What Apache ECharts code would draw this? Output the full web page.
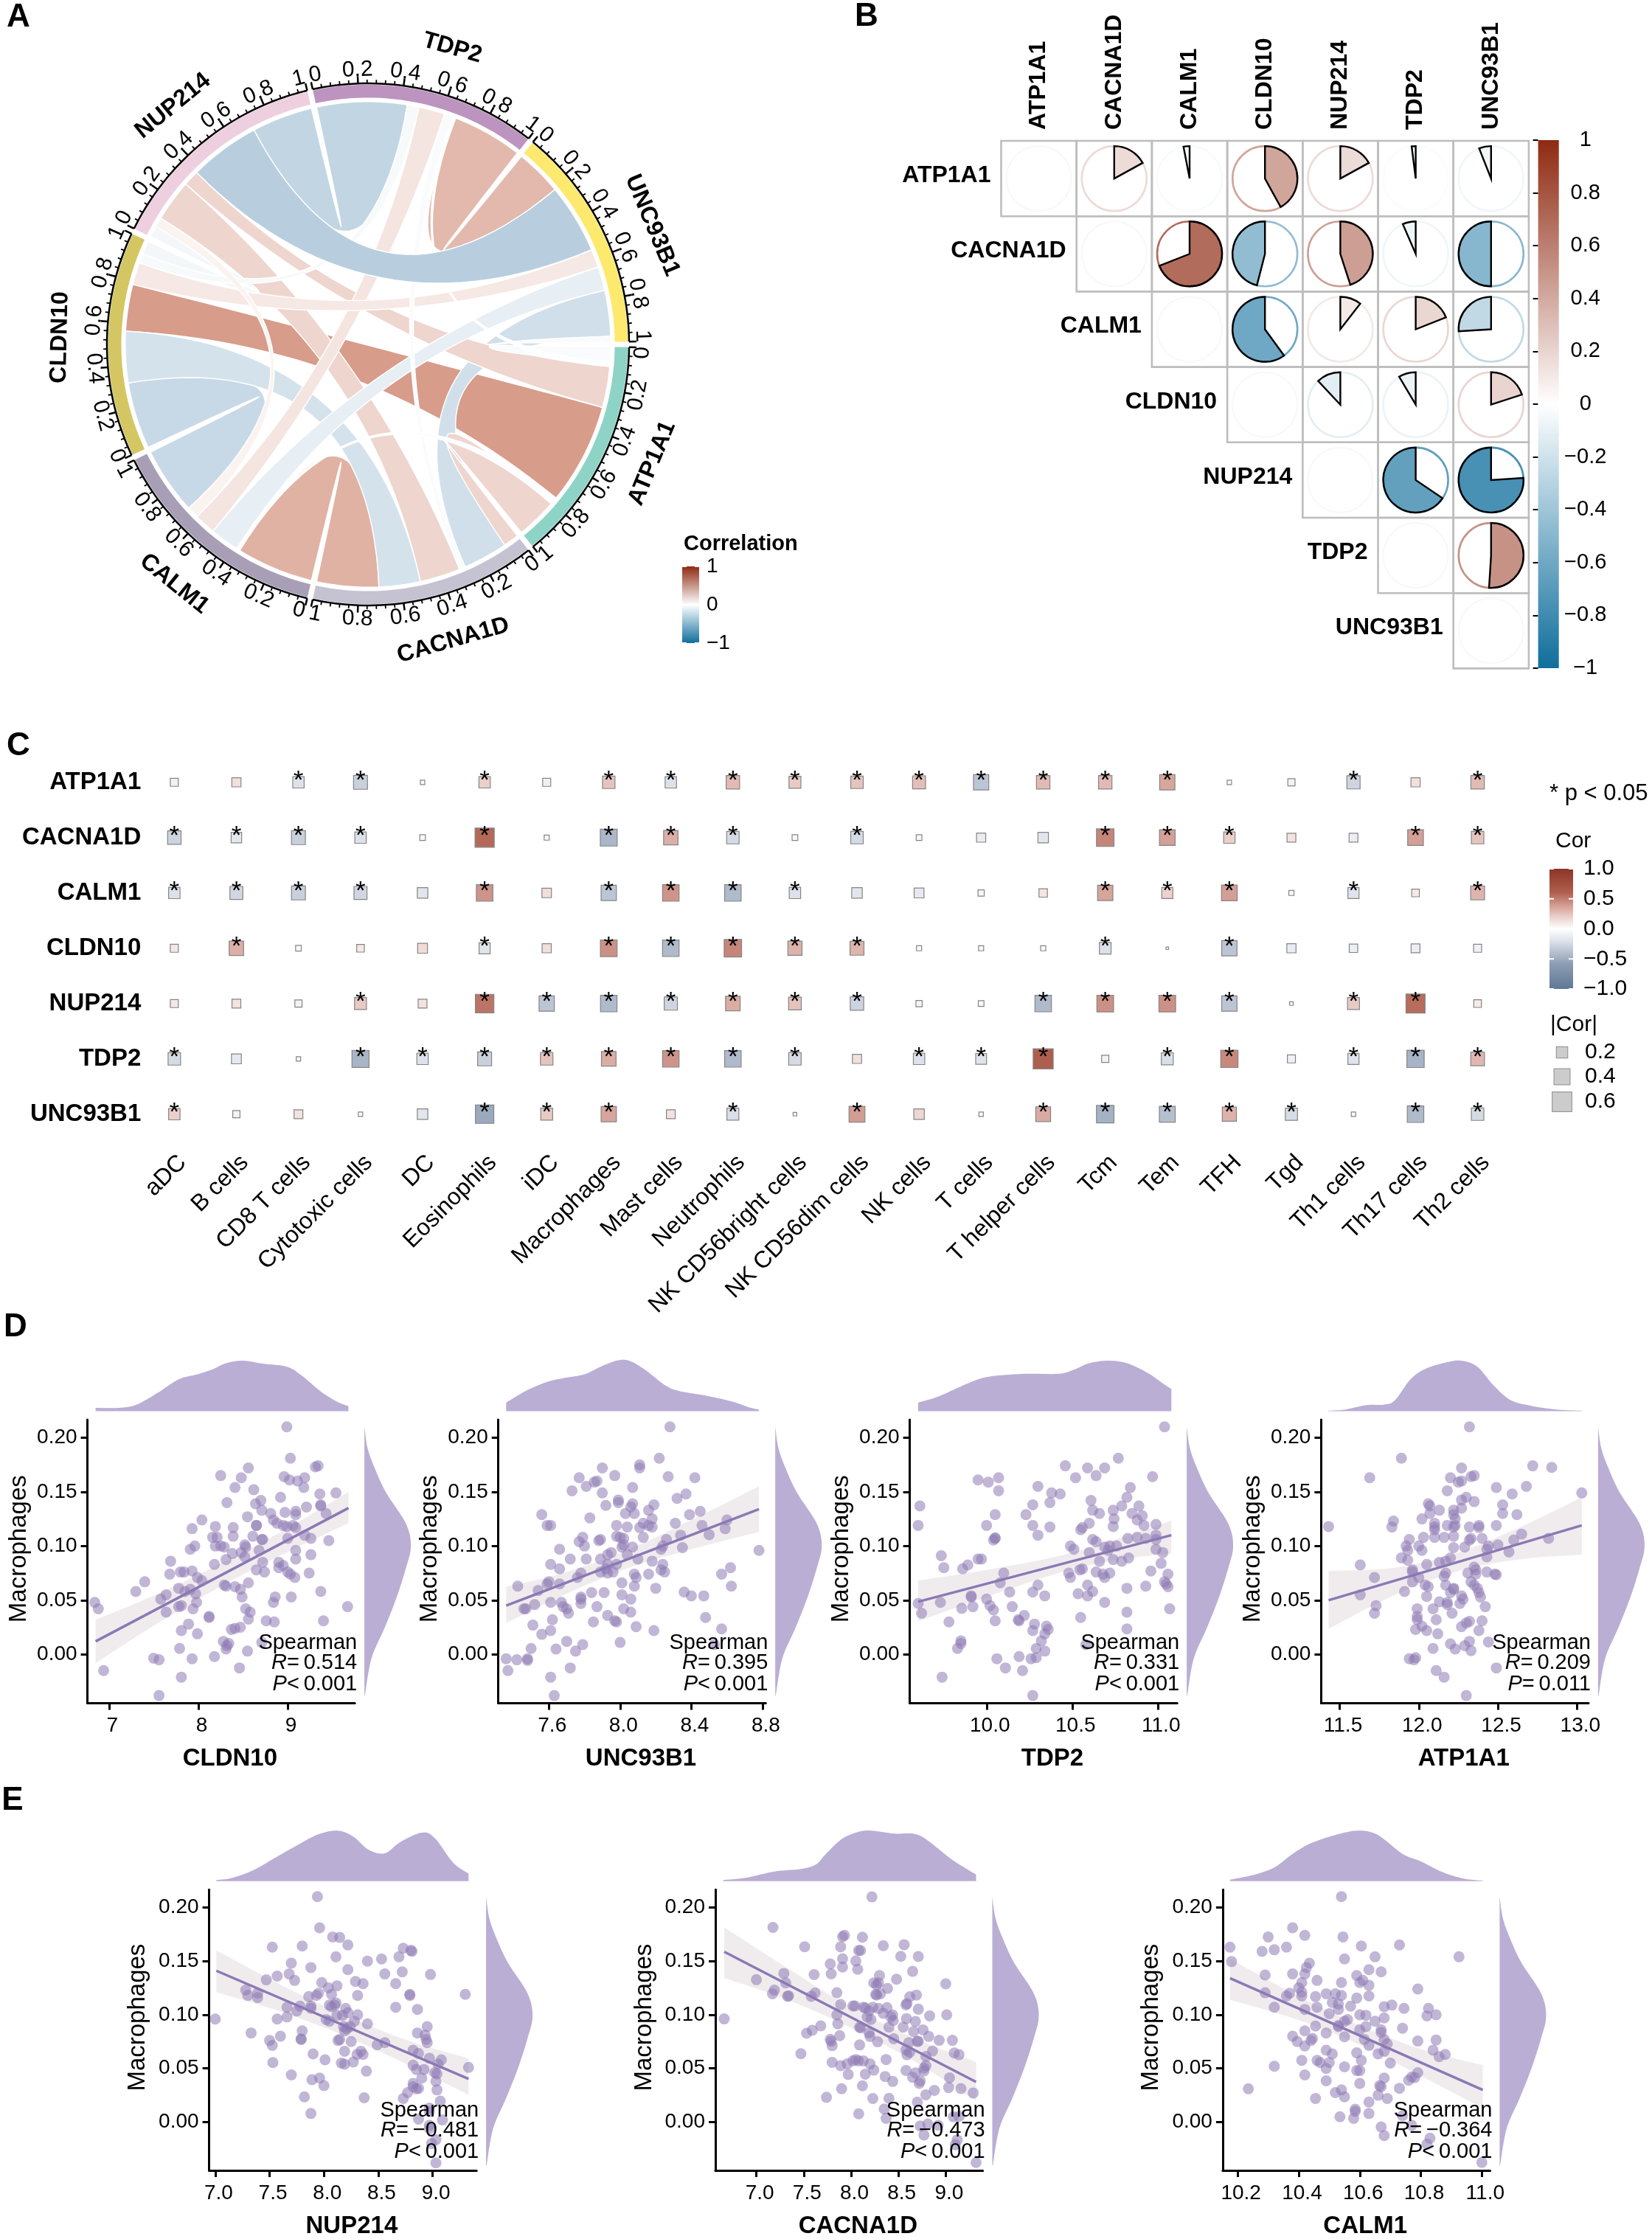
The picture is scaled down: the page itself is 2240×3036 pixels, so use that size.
<!DOCTYPE html>
<html><head><meta charset="utf-8"><style>html,body{margin:0;padding:0;background:#fff}#c{width:2240px;height:3036px}</style>
<script src="https://cdn.jsdelivr.net/npm/echarts@6/dist/echarts.min.js"></script></head>
<body><div id="c"></div><script>
const genes=['ATP1A1','CACNA1D','CALM1','CLDN10','NUP214','TDP2','UNC93B1'];
// upper triangle of the correlation matrix (panel B)
const corATP1A1=[0,.17,-.03,.42,.17,-.02,-.06];
const corCACNA1D=[0,0,.69,-.46,.45,-.065,-.5];
const corCALM1=[0,0,0,-.6,.105,.19,-.26];
const corCLDN10=[0,0,0,0,-.12,-.085,.2];
const corNUP214=[0,0,0,0,0,-.655,-.76];
const corTDP2=[0,0,0,0,0,0,.51];
const corUNC93B1=[0,0,0,0,0,0,0];
// ribbon tint (same pair order as the matrix)
const ribbonTone=[[0,.27,-.03,.64,.27,-.02,-.06],[0,0,.5,-.46,.27,-.065,-.5],[0,0,0,-.6,.08,.17,-.26],[0,0,0,0,-.12,-.085,.15],[0,0,0,0,0,-.655,-.76],[0,0,0,0,0,0,.45],[0,0,0,0,0,0,0]];
const sectorColors=['#8ED4C6','#C5C2D2','#A89FB6','#D4C662','#EDCFE0','#BC94BF','#FDE96E'];
const geneLabelNudgeDeg=[-3,-3.2,.4,1.3,-.7,3,3];
const chordTicks=[0,.2,.4,.6,.8,1];
// panel C
const cells=['aDC','B cells','CD8 T cells','Cytotoxic cells','DC','Eosinophils','iDC','Macrophages','Mast cells','Neutrophils','NK CD56bright cells','NK CD56dim cells','NK cells','T cells','T helper cells','Tcm','Tem','TFH','Tgd','Th1 cells','Th17 cells','Th2 cells'];
const heatATP1A1=[-.1,.13,-.2,-.3,-.03,.2,-.1,.24,-.2,.28,.22,.24,.26,-.36,.28,.28,.36,-.03,-.08,-.27,.13,.28];
const heatCACNA1D=[-.28,-.17,-.3,-.2,-.05,.57,-.04,-.44,.32,-.24,-.05,-.24,-.05,-.13,-.17,.47,.38,.2,.12,-.12,.38,.24];
const heatCALM1=[-.2,-.26,-.3,-.26,-.17,.42,.14,-.36,.42,-.42,-.2,-.17,-.15,-.06,.11,.36,.19,.38,-.04,-.19,.09,.3];
const heatCLDN10=[.1,.32,-.05,.09,.15,-.19,.13,.43,-.42,.47,.31,.3,-.04,-.04,-.04,-.21,-.01,-.36,-.13,-.11,-.12,-.1];
const heatNUP214=[.1,.12,-.08,.22,.12,.53,-.36,-.42,-.27,.33,.25,-.28,-.06,-.05,-.42,.43,.43,-.36,-.02,.22,.56,.09];
const heatTDP2=[-.24,-.15,-.03,-.45,-.2,-.3,.24,.33,.42,-.42,-.24,.13,-.2,-.18,.62,-.08,-.22,.46,-.1,-.19,-.46,.29];
const heatUNC93B1=[.2,-.08,.12,-.03,-.17,-.52,.22,.36,.12,-.22,-.02,.39,.17,-.03,.34,-.47,-.39,.31,-.23,-.03,-.42,-.24];
const starATP1A1='0011010111111111100101';
const starCACNA1D='1111010111010001110011';
const starCALM1='1111010111100001110101';
const starCLDN10='0100010111110001010000';
const starNUP214='0001011111110011110110';
const starTDP2='1001111111101110110111';
const starUNC93B1='1000011101010011111011';
const sizeLegend=[.2,.4,.6];
// panels D, E : macrophage score against gene expression
const cldn10Points=[[8.99,.21],[9.03,.181],[8.56,.172],[9.31,.173],[9.34,.174],[8.25,.165],[8.48,.163],[8.96,.164],[9.02,.161],[9.11,.16],[9.19,.163],[8.41,.154],[8.62,.152],[9.18,.154],[9.54,.149],[9.36,.148],[8.92,.145],[8.32,.14],[8.64,.139],[8.7,.142],[9.37,.138],[9.37,.137],[8.71,.133],[8.81,.13],[8.97,.131],[9.09,.132],[9.09,.129],[9.21,.136],[9.43,.13],[8.55,.127],[8.04,.124],[8.84,.124],[8.88,.121],[7.93,.116],[8.19,.118],[8.39,.117],[8.65,.119],[8.65,.119],[8.95,.119],[8.99,.118],[9.06,.119],[9.09,.117],[8.16,.108],[8.21,.108],[8.39,.109],[8.61,.109],[8.71,.106],[8.72,.106],[9,.107],[9.19,.11],[9.26,.107],[9.46,.105],[8.19,.1],[8.25,.1],[8.29,.099],[7.96,.1],[7.91,.097],[8.52,.101],[8.53,.099],[8.68,.096],[8.38,.093],[9.09,.096],[8.48,.094],[8.52,.09],[9.26,.092],[7.69,.086],[8.31,.0875],[8.18,.083],[8.72,.085],[9.09,.088],[8.9,.085],[8.95,.082],[8.9,.08],[7.84,.076],[7.8,.076],[7.68,.074],[7.93,.077],[8.65,.078],[8.74,.076],[9,.076],[9.03,.074],[9.08,.071],[9.24,.075],[7.99,.071],[8.04,.068],[7.4,.067],[8.56,.066],[7.3,.058],[7.78,.061],[7.91,.06],[8.29,.064],[8.31,.063],[8.41,.0625],[8.47,.06],[9.37,.058],[7.64,.055],[7.58,.051],[7.85,.058],[7.97,.056],[8.49,.053],[9.04,.053],[8.86,.053],[8.84,.048],[6.84,.048],[6.88,.042],[7.78,.044],[7.81,.045],[7.98,.048],[7.94,.042],[9.67,.044],[8.53,.042],[8.58,.039],[7.64,.039],[8.12,.035],[8.12,.034],[8.56,.0325],[8.76,.031],[8.85,.03],[9.4,.031],[7.89,.028],[7.81,.022],[7.99,.019],[8.37,.023],[8.41,.024],[8.47,.025],[8.28,.012],[8.34,.01],[8.32,.008],[8.31,.005],[8.71,.011],[7.79,.0055],[8.55,.003],[7.5,-.0036],[7.56,-.005],[7.93,-.004],[8.18,-.002],[8.46,-.0125],[6.94,-.015],[7.81,-.021],[7.56,-.038]];
const unc93b1Points=[[8.28,.21],[8.22,.181],[8.11,.175],[8.11,.172],[7.9,.172],[7.77,.163],[7.87,.16],[7.855,.159],[7.97,.165],[7.73,.151],[7.81,.155],[7.9,.149],[8.07,.154],[8.27,.164],[8.42,.163],[8.37,.148],[8.32,.144],[7.99,.1425],[7.99,.14],[7.92,.1375],[8.07,.139],[8.06,.136],[8.19,.138],[8.16,.133],[8.03,.13],[8.08,.13],[7.56,.129],[7.83,.126],[8.39,.129],[8.45,.132],[8.18,.125],[8.31,.121],[8.6,.124],[8.59,.116],[8.46,.119],[7.59,.119],[7.61,.119],[7.98,.119],[8.04,.1175],[8.11,.117],[8.13,.121],[8.16,.119],[8.18,.1175],[7.79,.108],[7.77,.104],[7.89,.106],[7.88,.105],[7.98,.109],[8,.108],[8.02,.107],[8.13,.108],[8.5,.1105],[8.26,.106],[8.34,.11],[7.8,.1],[8.02,.101],[8.01,.099],[8.07,.099],[8.24,.1],[8.23,.097],[8.35,.0985],[7.66,.097],[8.78,.096],[7.95,.094],[7.93,.092],[8.04,.092],[7.72,.088],[7.81,.088],[7.89,.088],[8.1,.088],[8.18,.086],[7.61,.083],[8.24,.083],[7.66,.079],[7.93,.083],[7.92,.079],[7.98,.083],[8.62,.08],[7.78,.075],[7.76,.071],[7.93,.075],[7.89,.076],[7.96,.076],[8.23,.078],[8.25,.076],[8.16,.074],[8.08,.074],[8.09,.071],[8.57,.074],[8.01,.066],[7.6,.067],[7.59,.065],[7.66,.065],[7.425,.063],[8.625,.063],[8.08,.063],[7.54,.059],[8.2,.061],[8.36,.0575],[8.4,.054],[8.47,.054],[7.84,.057],[7.91,.057],[8.01,.055],[7.78,.053],[7.78,.051],[7.78,.047],[8.06,.051],[7.61,.048],[7.67,.048],[7.52,.046],[7.46,.042],[7.47,.042],[7.68,.044],[7.7,.042],[7.71,.038],[7.87,.044],[8.02,.042],[8.06,.039],[7.93,.036],[7.97,.031],[7.98,.03],[7.62,.032],[7.85,.03],[8.48,.034],[7.51,.027],[8.09,.0255],[8.19,.022],[8.57,.0235],[7.61,.022],[7.56,.0185],[8,.011],[7.7,.012],[7.79,.009],[8.53,.009],[7.5,.0055],[7.64,.005],[7.75,.003],[7.36,-.004],[7.42,-.005],[7.48,-.004],[7.48,-.0055],[7.37,-.015],[7.72,-.0125],[7.61,-.021],[7.63,-.038]];
const tdp2Points=[[11.04,.21],[10.77,.181],[10.46,.174],[10.59,.172],[10.69,.172],[10.97,.164],[10.64,.165],[10.52,.163],[9.95,.161],[10.01,.159],[10.07,.163],[10.07,.151],[10.3,.155],[10.38,.149],[10.43,.148],[10.84,.154],[10.82,.145],[10.61,.142],[9.61,.137],[10.27,.138],[10.37,.14],[10.79,.137],[10.89,.137],[10.62,.133],[10.66,.13],[10.74,.133],[10.23,.129],[10.05,.129],[10.85,.13],[10.91,.128],[10.88,.124],[10.745,.125],[9.6,.119],[10,.119],[10.27,.119],[10.37,.1175],[10.56,.117],[10.6,.121],[10.55,.115],[10.74,.118],[10.92,.119],[10.99,.12],[10.3,.11],[10.05,.1075],[10.04,.1055],[10.05,.107],[10.88,.108],[10.99,.11],[10.62,.106],[10.64,.104],[10.49,.1],[10.51,.097],[10.825,.107],[10.93,.107],[10.72,.1],[10.76,.1],[10.6,.094],[10.69,.099],[10.71,.096],[9.735,.091],[10.99,.097],[11.03,.094],[10.99,.106],[9.95,.088],[9.97,.088],[9.89,.0825],[9.86,.079],[9.75,.08],[10.66,.086],[10.74,.0875],[10.79,.086],[10.83,.089],[11.02,.084],[10.545,.078],[10.56,.079],[10.48,.075],[10.1,.075],[10.64,.076],[10.72,.075],[10.96,.077],[11.06,.074],[10.49,.071],[10.68,.074],[10.69,.071],[10.08,.066],[11.04,.067],[11.05,.065],[10.93,.063],[11.06,.0625],[10.3,.064],[10.59,.064],[10.62,.058],[10.82,.061],[10.135,.0575],[10.27,.0575],[10.535,.056],[10.59,.054],[10.34,.054],[9.91,.054],[9.91,.053],[10,.051],[9.73,.048],[9.6,.047],[10.69,.048],[10.02,.045],[9.92,.044],[9.855,.0425],[10.15,.044],[10.04,.041],[11.07,.042],[9.62,.038],[10.82,.039],[10.22,.036],[10.185,.032],[10.19,.031],[10.55,.034],[10.05,.031],[9.78,.03],[10.28,.028],[10.35,.026],[10.27,.022],[10.36,.023],[10.34,.019],[10.82,.0235],[10.32,.0125],[9.85,.0125],[9.85,.01],[10.58,.009],[10.29,.0055],[9.83,.0055],[10.34,.003],[10.19,-.002],[10.29,-.003],[10.26,-.004],[10.06,-.004],[10.11,-.0125],[10.21,-.015],[9.74,-.021],[10.27,-.038]];
const atp1a1Points=[[12.32,.21],[11.89,.181],[12.27,.172],[12.72,.174],[12.84,.1725],[11.69,.163],[12.2,.163],[12.27,.16],[12.25,.159],[12.35,.165],[12.33,.164],[12.18,.151],[12.49,.154],[12.68,.155],[13.03,.149],[12.59,.148],[12.3,.145],[12.27,.1425],[12.35,.141],[12.06,.139],[12.07,.137],[12.27,.135],[12.53,.138],[12.53,.13],[12.13,.133],[12.07,.13],[12.22,.133],[12.02,.125],[11.84,.123],[11.83,.1175],[12.22,.129],[12.23,.125],[12.62,.129],[11.43,.118],[12.1,.121],[12.1,.1175],[12.1,.115],[12.18,.119],[12.23,.119],[12.22,.1175],[12.32,.1175],[12.38,.119],[12.38,.117],[12.49,.119],[12.65,.111],[12.03,.108],[12.1,.108],[12.16,.108],[12.22,.109],[12.33,.107],[12.32,.1055],[12.4,.107],[11.94,.106],[12.82,.107],[12.6,.1055],[11.92,.1],[12,.1],[12.22,.0985],[12.29,.099],[11.93,.096],[12.02,.096],[12.44,.1],[12.5,.101],[12.57,.0945],[12.43,.097],[12.43,.09],[11.89,.089],[11.93,.087],[11.63,.0825],[12.2,.089],[12.13,.085],[12.17,.086],[12.05,.083],[12.35,.0805],[12.36,.078],[12.36,.074],[11.96,.078],[11.96,.076],[12,.071],[12.31,.075],[12.43,.076],[12.48,.074],[12.49,.0735],[12.17,.075],[12.16,.072],[11.72,.071],[11.96,.067],[12.33,.067],[12.04,.064],[12.06,.0625],[12.17,.064],[12.22,.061],[12.35,.064],[12.37,.061],[11.91,.058],[12.22,.06],[12.2,.057],[12.38,.057],[11.63,.055],[12.05,.0535],[12.27,.054],[12.28,.051],[12.39,.053],[12.13,.0485],[12.18,.048],[12.18,.046],[12.26,.047],[11.73,.045],[12.42,.044],[11.99,.042],[12.09,.042],[11.72,.038],[12.21,.038],[11.99,.035],[11.99,.032],[12.11,.032],[12.4,.031],[12.32,.0305],[12.3,.029],[12.02,.026],[11.98,.023],[12.05,.022],[12.27,.0255],[12.38,.022],[12.12,.019],[12.44,.0115],[12.32,.012],[12.2,.0097],[12.29,.008],[12.09,.0055],[12.23,.005],[12.33,.0035],[11.94,-.004],[11.98,-.003],[11.97,-.005],[12.11,-.015],[12.16,-.021],[12.49,-.0125],[12.3,-.038]];
const nup214Points=[[7.94,.21],[7.96,.181],[8.08,.1725],[8.145,.172],[8.22,.165],[7.525,.163],[7.8,.164],[8.73,.162],[8.8,.16],[8.81,.159],[8.11,.154],[8.4,.15],[8.53,.152],[8.69,.154],[7.7,.148],[7.88,.144],[8.22,.142],[8.72,.14],[8.56,.138],[7.68,.138],[7.57,.136],[8.98,.1375],[7.47,.1325],[7.73,.132],[7.98,.13],[8.29,.131],[8.36,.129],[8.66,.129],[8.12,.127],[8.04,.125],[7.28,.123],[7.3,.118],[7.39,.12],[7.39,.116],[9.3,.119],[7.95,.12],[7.93,.118],[7.86,.117],[8.07,.119],[8.31,.118],[8.79,.119],[8.79,.118],[7,.096],[7.66,.107],[7.78,.108],[7.88,.108],[8.05,.109],[8.1,.109],[8.07,.1075],[8.11,.111],[8.66,.107],[8.86,.105],[7.75,.1035],[7.88,.106],[8.2,.106],[8.22,.102],[8.17,.0995],[8.31,.1],[8.12,.0995],[7.66,.098],[7.57,.096],[8.02,.0955],[8.05,.094],[8.28,.094],[8.4,.0915],[8.95,.089],[8.18,.089],[8.21,.087],[8.24,.089],[8.19,.085],[7.8,.085],[7.33,.083],[8.86,.083],[8.93,.081],[8.94,.077],[7.6,.08],[7.79,.0775],[7.79,.077],[8.145,.077],[8.13,.076],[7.5,.076],[7.525,.0715],[8.25,.075],[8.95,.074],[8.56,.074],[8.49,.072],[8.82,.067],[8.87,.064],[8.19,.066],[8.34,.066],[8.36,.063],[8.305,.063],[7.9,.0635],[8.01,.058],[8.97,.0595],[9.08,.058],[7.53,.0555],[8.16,.055],[8.19,.054],[8.27,.056],[8.82,.053],[8.85,.049],[9.33,.051],[9.05,.054],[8.39,.0475],[8.92,.049],[9.02,.046],[9.04,.045],[8.9,.041],[7.7,.044],[7.96,.041],[7.89,.0395],[9.03,.038],[8.82,.036],[8,.034],[8.82,.033],[8.87,.0315],[8.85,.031],[9.04,.03],[8.77,.0275],[8.73,.022],[7.82,.0235],[8.37,.0227],[9.07,.0195],[7.88,.008],[8.97,.013],[8.97,.01],[8.87,.0027],[9.09,.002],[8.97,-.003],[8.97,-.006],[8.99,-.02],[9.03,-.0165],[9.03,-.038]];
const cacna1dPoints=[[8.22,.2098],[7.175,.1814],[7.51,.1633],[7.91,.1728],[7.93,.174],[7.89,.1633],[8.12,.1723],[8.34,.1644],[8.56,.1653],[8.08,.1599],[8.1,.1599],[8.525,.1544],[8.71,.1542],[7.91,.1522],[8.05,.1501],[7.78,.1474],[7.91,.1444],[8.07,.1424],[8.65,.1404],[7.29,.1385],[7.61,.1374],[7.79,.1381],[8.3,.1365],[8.48,.1331],[7,.1327],[9,.1288],[7.31,.1297],[8.24,.1297],[8.29,.1297],[8.27,.1279],[7.19,.1229],[7.17,.1195],[7.34,.1177],[7.33,.1172],[7.62,.1202],[7.58,.1172],[7.85,.1206],[8.385,.1245],[8.26,.119],[8.31,.1195],[8.27,.1184],[8.62,.1168],[8.69,.1184],[8.59,.1104],[8.58,.1093],[7.89,.1095],[8.02,.1082],[8.04,.1082],[8.13,.107],[8.15,.1063],[8.23,.107],[8.29,.1059],[8.38,.1066],[8.71,.1052],[8.34,.1014],[8.44,.0998],[8.42,.098],[8.19,.1036],[8.17,.098],[8.21,.0957],[7.85,.1],[8.445,.0946],[8.83,.0989],[9.01,.1],[6.66,.0961],[8.585,.0964],[8.68,.0937],[7.68,.0896],[7.86,.0916],[7.59,.0855],[7.53,.0828],[8.09,.0884],[8.1,.0878],[8.4,.0884],[8.55,.0884],[8.66,.0844],[8.76,.0859],[8.19,.0832],[8.2,.0798],[7.88,.0805],[8.82,.0798],[7.78,.0771],[7.79,.0753],[7.8,.0712],[8.28,.0748],[8.45,.0776],[8.93,.0762],[9.07,.0762],[8.09,.0719],[8.61,.0741],[8.7,.0753],[8.71,.0753],[8.58,.0673],[8.62,.0651],[8.59,.0628],[8.86,.0662],[9.09,.0644],[9.14,.0628],[7.47,.0637],[8.79,.0612],[7.8,.0556],[8.05,.0583],[8.02,.0571],[8.08,.0571],[8.13,.0571],[8.37,.0583],[7.89,.0526],[7.96,.0542],[8.2,.0542],[8.79,.0526],[8.77,.0503],[8.24,.0485],[8.58,.0481],[8.68,.0458],[8.77,.0476],[7.97,.0444],[8.15,.0447],[8.36,.0424],[8.65,.0417],[9.04,.0413],[8.44,.0379],[8.73,.0383],[8.72,.0361],[8.12,.0338],[7.9,.0311],[9.03,.0322],[9.16,.0313],[8.88,.0295],[8.79,.0254],[9.29,.0272],[7.74,.0231],[8.23,.022],[8.4,.0222],[8.7,.0186],[8.35,.0122],[8.08,.0077],[8.37,.0034],[9.08,.005],[9.14,.0054],[8.73,-.0036],[8.81,-.0018],[8.92,-.0029],[8.77,-.012],[9.12,-.0166],[9.1,-.0211],[9.32,-.0376]];
const calm1Points=[[10.54,.21],[10.38,.181],[10.42,.174],[10.3,.1725],[10.545,.1725],[10.175,.163],[10.28,.159],[10.32,.1605],[10.36,.163],[10.605,.164],[10.73,.165],[10.18,.1495],[10.55,.152],[10.65,.154],[10.925,.154],[10.435,.148],[10.425,.144],[10.29,.137],[10.38,.138],[10.42,.138],[10.63,.142],[10.67,.14],[10.41,.13],[10.4,.125],[10.46,.132],[10.59,.1365],[10.54,.13],[10.6,.13],[10.61,.132],[10.63,.1275],[10.79,.124],[10.29,.1205],[10.37,.12],[10.36,.1175],[10.41,.121],[10.41,.1175],[10.455,.117],[10.49,.1195],[10.52,.1195],[10.54,.118],[10.51,.1115],[10.63,.1175],[10.59,.1155],[10.32,.107],[10.42,.105],[10.46,.107],[10.53,.11],[10.53,.105],[10.57,.108],[10.68,.1075],[10.705,.109],[10.745,.106],[10.825,.106],[10.5,.101],[10.82,.099],[10.85,.1],[10.6,.1],[10.62,.0995],[10.56,.0955],[10.55,.094],[10.65,.094],[10.68,.097],[10.455,.0895],[10.42,.085],[10.53,.09],[10.53,.089],[10.6,.086],[10.62,.089],[10.67,.086],[10.74,.0875],[10.49,.083],[10.67,.0835],[10.38,.08],[10.395,.075],[10.445,.078],[10.44,.076],[10.42,.071],[10.55,.0795],[10.615,.077],[10.68,.077],[10.79,.0755],[10.85,.0765],[10.63,.0715],[10.69,.073],[10.49,.067],[10.51,.0635],[10.84,.067],[10.59,.0645],[10.66,.0635],[10.68,.066],[10.86,.061],[10.88,.063],[10.41,.0575],[10.46,.0575],[10.47,.0555],[10.5,.0555],[10.605,.0575],[10.7,.055],[10.32,.052],[10.55,.0515],[10.49,.05],[10.59,.048],[10.6,.048],[10.42,.044],[10.79,.046],[10.77,.042],[10.78,.0415],[10.49,.0385],[10.68,.041],[10.76,.039],[10.6,.036],[10.665,.034],[10.67,.033],[10.235,.031],[10.73,.0315],[10.54,.03],[10.52,.0275],[10.55,.0235],[10.66,.025],[10.69,.022],[10.455,.022],[10.63,.0187],[10.585,.012],[10.585,.01],[10.63,.008],[10.535,.005],[10.58,.0035],[10.74,.006],[10.77,-.003],[10.67,-.0045],[10.68,-.0125],[10.83,-.015],[10.82,-.0205],[11,-.0375]];
const cldn10Fit=[[6.85,.012],[9.68,.135]], unc93b1Fit=[[7.36,.045],[8.78,.134]], tdp2Fit=[[9.6,.0486],[11.08,.11]], atp1a1Fit=[[11.43,.05],[13.03,.119]], nup214Fit=[[7.01,.141],[9.33,.0403]], cacna1dFit=[[6.66,.1587],[9.32,.0374]], calm1Fit=[[10.175,.134],[11.003,.03]];
const cldn10Band=[[6.85,-.008,.032],[7.55,.029,.056],[8.3,.065,.086],[9,.0945,.1165],[9.68,.121,.15]];
const unc93b1Band=[[7.36,.029,.0625],[7.7,.056,.076],[8.05,.08,.097],[8.4,.097,.124],[8.78,.113,.155]];
const tdp2Band=[[9.6,.0306,.068],[10,.053,.078],[10.4,.074,.09],[10.75,.087,.106],[11.08,.093,.1235]];
const atp1a1Band=[[11.43,.0236,.077],[11.85,.055,.08],[12.25,.077,.094],[12.65,.088,.118],[13.03,.092,.145]];
const nup214Band=[[7.01,.121,.16],[7.6,.103,.128],[8.2,.08,.099],[8.8,.052,.075],[9.33,.0254,.0595]];
const cacna1dBand=[[6.66,.1342,.1814],[7.3,.115,.145],[8,.088,.107],[8.7,.055,.077],[9.32,.0197,.056]];
const calm1Band=[[10.175,.114,.152],[10.4,.095,.117],[10.6,.072,.09],[10.8,.043,.068],[11.003,.013,.053]];
const cldn10Density=[[6.85,.066],[7.11,.066],[7.31,.13],[7.55,.37],[7.78,.63],[7.99,.73],[8.16,.83],[8.31,.95],[8.5,1],[8.72,.94],[8.99,.88],[9.16,.7],[9.37,.39],[9.55,.19],[9.68,.1]];
const unc93b1Density=[[7.36,.17],[7.47,.4],[7.59,.58],[7.69,.66],[7.8,.73],[7.89,.88],[7.98,1],[8.05,1],[8.14,.82],[8.25,.52],[8.33,.4],[8.48,.31],[8.63,.19],[8.73,.07],[8.78,.03]];
const tdp2Density=[[9.6,.17],[9.71,.28],[9.83,.46],[9.95,.63],[10.05,.7],[10.23,.74],[10.42,.74],[10.51,.82],[10.6,.95],[10.71,1],[10.82,.95],[10.94,.76],[11.03,.55],[11.08,.44]];
const atp1a1Density=[[11.43,.01],[11.53,.03],[11.67,.12],[11.78,.13],[11.85,.22],[11.95,.64],[12.05,.85],[12.18,.97],[12.27,1],[12.37,.88],[12.47,.52],[12.58,.22],[12.72,.1],[12.88,.03],[13.03,.01]];
const nup214Density=[[7.01,.02],[7.15,.06],[7.35,.215],[7.54,.45],[7.73,.68],[7.93,.91],[8.12,1],[8.27,.88],[8.41,.62],[8.56,.55],[8.7,.77],[8.9,.96],[9.02,.85],[9.19,.36],[9.33,.15]];
const cacna1dDensity=[[6.65,.02],[6.9,.07],[7.19,.19],[7.47,.24],[7.63,.33],[7.73,.53],[7.9,.83],[8.07,.97],[8.21,1],[8.46,.94],[8.65,.94],[8.79,.83],[9.07,.42],[9.32,.13]];
const calm1Density=[[10.175,.03],[10.25,.12],[10.32,.27],[10.38,.54],[10.44,.75],[10.53,.93],[10.6,1],[10.66,.91],[10.74,.54],[10.8,.39],[10.87,.18],[10.94,.05],[11.003,.01]];
const macrophageDensity=[[0,.21],[.07,.19],[.23,.171],[.47,.149],[.89,.121],[1,.1],[.89,.079],[.68,.051],[.43,.024],[.15,-.004],[.01,-.038]];
const yTicks=[0,.05,.1,.15,.2];
const panelStats=[['0.514','<0.001'],['0.395','<0.001'],['0.331','<0.001'],['0.209','=0.011'],['−0.481','<0.001'],['−0.473','<0.001'],['−0.364','<0.001']];

const FF='"Liberation Sans",Arial,sans-serif';
const PURPLE='#8E7AB5', DENS='#BAAED5', YLIM=[-.045,.2166];
const grid=[],xAxis=[],yAxis=[],series=[],graphic=[];
function T(t,x,y,fs,o={}){return Object.assign({type:'text',x,y,silent:true,style:Object.assign({text:t,fontSize:fs,fontFamily:FF,fill:'#000',align:o.align||'left',textAlign:o.align||'left',verticalAlign:'middle',textVerticalAlign:'middle',fontWeight:o.bold?'bold':'normal'},o.rich?{rich:o.rich}:{})},o.rotation!=null?{rotation:o.rotation}:{});}
function spline(p,n=8){const r=[];for(let i=0;i<p.length-1;i++){const a=p[Math.max(i-1,0)],b=p[i],c=p[i+1],d=p[Math.min(i+2,p.length-1)];for(let k=0;k<n;k++){const t=k/n,t2=t*t,t3=t2*t;r.push([0,1].map(q=>.5*(2*b[q]+(c[q]-a[q])*t+(2*a[q]-5*b[q]+4*c[q]-d[q])*t2+(3*b[q]-a[q]-3*c[q]+d[q])*t3)));}}r.push(p[p.length-1]);return r;}
function hex(c){return [1,3,5].map(i=>parseInt(c.substr(i,2),16));}
function rampOf(stops){return v=>{for(let i=0;i<stops.length-1;i++){const a=stops[i],b=stops[i+1];if(v>=a[0]&&v<=b[0]){const t=(v-a[0])/(b[0]-a[0]),A=hex(a[1]),B=hex(b[1]);return 'rgb('+A.map((x,k)=>Math.round(x+(B[k]-x)*t)).join(',')+')';}}return stops[v<stops[0][0]?0:stops.length-1][1];};}
const corRamp=rampOf([[-1,'#0F6E9C'],[0,'#FFFFFF'],[1,'#8F2A12']]);
const heatStops=[[-1,'#5F7896'],[-.6,'#8A9BB2'],[-.45,'#A9B5C7'],[-.2,'#DDE2EA'],[0,'#FFFFFF'],[.2,'#EBCFCA'],[.4,'#D19A90'],[.6,'#B0604F'],[1,'#8C3527']];
const heatRamp=rampOf(heatStops);
const corRows=[corATP1A1,corCACNA1D,corCALM1,corCLDN10,corNUP214,corTDP2,corUNC93B1];
const cor=(i,j)=>i<j?corRows[i][j]:corRows[j][i];

/* ---------- panel letters ---------- */
[['A',25,24],['B',1175,23],['C',25,1012],['D',21,1800],['E',17,2442]].forEach(a=>graphic.push(T(a[0],a[1],a[2],44,{bold:true,align:'center'})));

/* ---------- panel A : chord diagram on a hidden polar system ---------- */
const G=.012, R_CH=.93;
const ends=genes.map(()=>({}));
genes.forEach((g,i)=>{let sum=0;for(let k=1;k<7;k++)sum+=Math.abs(cor(i,(i-k+7)%7));let a=i+G;const span=1-2*G;for(let k=1;k<7;k++){const p=(i-k+7)%7,w=Math.abs(cor(i,p))/sum*span;ends[i][p]=[a,a+w];a+=w;}});
const links=[];for(let i=0;i<7;i++)for(let j=i+1;j<7;j++)links.push([i,j,ribbonTone[i][j]]);
links.sort((a,b)=>Math.abs(b[2])-Math.abs(a[2]));
links.push(links.shift()); // the NUP214-UNC93B1 ribbon lies on top of the others
function ribbonColor(t){const c=t>0?[193,100,72]:[162,191,213],k=Math.abs(t);return 'rgb('+c.map(x=>Math.round(255-(255-x)*k)).join(',')+')';}
const polarOpt={center:[499,467],radius:354};
const angleAxis={type:'value',min:0,max:7,startAngle:0,clockwise:true,show:false,axisLine:{show:false},axisTick:{show:false},axisLabel:{show:false},splitLine:{show:false}};
const radiusAxis={type:'value',min:0,max:1,show:false,axisLine:{show:false},axisTick:{show:false},axisLabel:{show:false},splitLine:{show:false}};
function arcPts(api,r,a0,a1,n){const o=[];n=n||Math.max(4,Math.ceil(Math.abs(a1-a0)*40));for(let k=0;k<=n;k++)o.push(api.coord([r,a0+(a1-a0)*k/n]));return o;}
series.push({type:'custom',coordinateSystem:'polar',silent:true,data:links,z:2,renderItem(p,api){
  const l=links[p.dataIndex],a=ends[l[0]][l[1]],b=ends[l[1]][l[0]],c=api.coord([0,0]);
  const A=arcPts(api,R_CH,a[0],a[1]),B=arcPts(api,R_CH,b[0],b[1]);
  const q=(s,e)=>{const o=[];for(let k=1;k<30;k++){const t=k/30,u=1-t;o.push([u*u*s[0]+2*u*t*c[0]+t*t*e[0],u*u*s[1]+2*u*t*c[1]+t*t*e[1]]);}return o;};
  const pts=A.concat(q(A[A.length-1],B[0]),B,q(B[B.length-1],A[0]));
  return {type:'polygon',shape:{points:pts},style:{fill:ribbonColor(l[2]),stroke:'#fff',lineWidth:1.5}};
}});
series.push({type:'custom',coordinateSystem:'polar',silent:true,data:genes.map((g,i)=>[1,i]),z:3,renderItem(p,api){
  const i=p.dataIndex,ch=[],s=i+G,e=i+1-G;
  const outer=arcPts(api,.995,s,e),inner=arcPts(api,.945,s,e).reverse();
  ch.push({type:'polygon',shape:{points:outer.concat(inner)},style:{fill:sectorColors[i]}});
  ch.push({type:'polyline',shape:{points:arcPts(api,1,s,e)},style:{stroke:'#000',lineWidth:2.5,fill:'none'}});
  const map=t=>s+(e-s)*t;
  for(let k=0;k<=25;k++){const t=k/25,maj=k%5===0,a=api.coord([1,map(t)]),b=api.coord([maj?1.028:1.014,map(t)]);ch.push({type:'line',shape:{x1:a[0],y1:a[1],x2:b[0],y2:b[1]},style:{stroke:'#000',lineWidth:maj?2.5:1.8}});}
  const rot=ang=>{const th=ang/7*360;return (th<180?(90-th):(270-th))*Math.PI/180;};
  chordTicks.forEach(t=>{const nud=t===0?.022:t===1?-.022:0,ang=map(t)+nud,pos=api.coord([1.052,ang]),lab=t===0?'0':t===1?'1':t.toFixed(1);ch.push(T(lab,pos[0],pos[1],30,{align:'center',rotation:rot(ang)}));});
  const m=i+.5+geneLabelNudgeDeg[i]*7/360,pos=api.coord([1.18,m]);ch.push(T(genes[i],pos[0],pos[1],32,{bold:true,align:'center',rotation:rot(m)}));
  return {type:'group',children:ch};
}});

/* ---------- colour bars ---------- */
function colorbar(o){
  const gi=grid.length;
  grid.push({left:o.left,top:o.top,width:o.width,height:o.height});
  xAxis.push({gridIndex:gi,type:'value',min:0,max:1,show:false});
  yAxis.push({gridIndex:gi,type:'value',min:o.min,max:o.max,position:'right',axisLine:{show:false},splitLine:{show:false},
    axisTick:{show:o.axisTick,inside:true,length:o.tickLen||10,customValues:o.ticks,lineStyle:{color:o.tickColor||'#000',width:2}},
    axisLabel:{fontSize:o.fontSize,fontFamily:FF,color:'#000',margin:o.margin,align:o.align,customValues:o.ticks,formatter:o.fmt}});
  series.push({type:'custom',coordinateSystem:'cartesian2d',xAxisIndex:gi,yAxisIndex:gi,silent:true,z:1,data:[[0,o.min,1,o.max]],renderItem(p,api){
    const a=api.coord([0,o.max]),b=api.coord([1,o.min]),ch=[{type:'rect',shape:{x:a[0],y:a[1],width:b[0]-a[0],height:b[1]-a[1]},style:{fill:{type:'linear',x:0,y:0,x2:0,y2:1,colorStops:o.stops}}}];
    if(o.sideTicks)o.ticks.forEach(v=>{const y=api.coord([0,v])[1];ch.push({type:'rect',shape:{x:a[0],y:y-1,width:6,height:2},style:{fill:'#fff'}});ch.push({type:'rect',shape:{x:b[0]-6,y:y-1,width:6,height:2},style:{fill:'#fff'}});});
    return {type:'group',children:ch};
  }});
}
const fmtMinus=d=>v=>{const s=Math.abs(v)<1e-9?(0).toFixed(d):Math.abs(v).toFixed(d);return v<-1e-9?'−'+s:s;};
const corStops=[{offset:0,color:'#8F2A12'},{offset:.5,color:'#FFFFFF'},{offset:1,color:'#0F6E9C'}];
graphic.push(T('Correlation',927,738,29,{bold:true}));
colorbar({left:925,top:768,width:23,height:104,min:-1,max:1,ticks:[-1,0,1],stops:corStops,fontSize:28,margin:10,align:'left',axisTick:false,sideTicks:true,fmt:v=>fmtMinus(0)(v)});
colorbar({left:2085.6,top:190,width:28.1,height:716,min:-1,max:1,ticks:[-1,-.8,-.6,-.4,-.2,0,.2,.4,.6,.8,1],stops:corStops,fontSize:29,margin:36,align:'center',axisTick:true,tickLen:7,fmt:v=>Math.abs(v)===1||v===0?fmtMinus(0)(v):fmtMinus(1)(v)});

/* ---------- panel B ---------- */
(function(){
  const gi=grid.length;
  grid.push({left:1357.5,top:191,width:715.4,height:715.4});
  xAxis.push({gridIndex:gi,type:'category',data:genes,position:'top',axisLine:{show:false},axisTick:{show:false},axisLabel:{show:false}});
  yAxis.push({gridIndex:gi,type:'category',data:genes,inverse:true,axisLine:{show:false},axisTick:{show:false},axisLabel:{show:false}});
  const d=[];for(let i=0;i<7;i++)for(let j=i;j<7;j++)d.push([j,i,i===j?0:cor(i,j)]);
  series.push({type:'custom',coordinateSystem:'cartesian2d',xAxisIndex:gi,yAxisIndex:gi,silent:true,z:2,data:d,renderItem(p,api){
    const r=d[p.dataIndex],c=api.coord([r[0],r[1]]),s=api.size([1,1]),ch=[];
    ch.push({type:'rect',shape:{x:c[0]-s[0]/2,y:c[1]-s[1]/2,width:s[0],height:s[1]},style:{fill:'none',stroke:'#BDBDBD',lineWidth:2.6}});
    const R=44,v=r[2];
    if(r[1]===0)ch.push(T(genes[r[0]],c[0],c[1]-s[1]/2-15,32,{bold:true,rotation:Math.PI/2}));
    if(r[0]===r[1]){ch.push({type:'circle',shape:{cx:c[0],cy:c[1],r:R},style:{fill:'none',stroke:'#F8F8F8',lineWidth:2}});
      ch.push(T(genes[r[1]],c[0]-s[0]/2-14,c[1]-4,32,{bold:true,align:'right'}));}
    else{ch.push({type:'circle',shape:{cx:c[0],cy:c[1],r:R},style:{fill:'none',stroke:corRamp(v),lineWidth:2.6}});
      const top=-Math.PI/2,a=2*Math.PI*Math.abs(v);
      ch.push({type:'sector',shape:{cx:c[0],cy:c[1],r:R,r0:0,startAngle:v>0?top:top-a,endAngle:v>0?top+a:top,clockwise:true},style:{fill:corRamp(v),stroke:'#000',lineWidth:2.4}});}
    return {type:'group',children:ch};
  }});
})();

/* ---------- panel C ---------- */
const heatRows=[heatATP1A1,heatCACNA1D,heatCALM1,heatCLDN10,heatNUP214,heatTDP2,heatUNC93B1];
const starRows=[starATP1A1,starCACNA1D,starCALM1,starCLDN10,starNUP214,starTDP2,starUNC93B1];
const sq=v=>34.5*Math.sqrt(Math.abs(v));
(function(){
  const gi=grid.length;
  grid.push({left:194.3,top:1023.3,width:1851.3,height:525});
  xAxis.push({gridIndex:gi,type:'category',data:cells,axisLine:{show:false},axisTick:{show:false},axisLabel:{interval:0,rotate:45,align:'right',verticalAlign:'top',fontSize:32,fontFamily:FF,color:'#000',margin:12}});
  yAxis.push({gridIndex:gi,type:'category',data:genes,inverse:true,axisLine:{show:false},axisTick:{show:false},axisLabel:{fontSize:33,fontWeight:'bold',fontFamily:FF,color:'#000',margin:3}});
  const d=[];heatRows.forEach((row,i)=>row.forEach((v,j)=>d.push([j,i,v,+starRows[i][j]])));
  series.push({type:'custom',coordinateSystem:'cartesian2d',xAxisIndex:gi,yAxisIndex:gi,silent:true,z:2,data:d,renderItem(p,api){
    const r=d[p.dataIndex],c=api.coord([r[0],r[1]]),w=sq(r[2]),ch=[{type:'rect',shape:{x:c[0]-w/2,y:c[1]-w/2,width:w,height:w},style:{fill:heatRamp(r[2]),stroke:'#858585',lineWidth:1.2}}];
    if(r[3])ch.push(T('*',c[0],c[1]-1,35,{align:'center'}));
    return {type:'group',children:ch};
  }});
})();
graphic.push(T('* p < 0.05',2101,1076,31));
graphic.push(T('Cor',2109,1141,30));
colorbar({left:2101,top:1178,width:32,height:163,min:-1,max:1,ticks:[-1,-.5,0,.5,1],stops:[{offset:0,color:'#8C3527'},{offset:.2,color:'#B0604F'},{offset:.3,color:'#D19A90'},{offset:.4,color:'#EBCFCA'},{offset:.5,color:'#FFFFFF'},{offset:.6,color:'#DDE2EA'},{offset:.725,color:'#A9B5C7'},{offset:.8,color:'#8A9BB2'},{offset:1,color:'#5F7896'}],fontSize:30,margin:14,align:'left',axisTick:false,sideTicks:true,fmt:fmtMinus(1)});
graphic.push(T('|Cor|',2102,1390,30));
sizeLegend.forEach((v,i)=>{const y=[1427,1460,1494][i],w=sq(v);graphic.push({type:'rect',silent:true,shape:{x:2118-w/2,y:y-w/2,width:w,height:w},style:{fill:'#CCCCCC',stroke:'#9A9A9A',lineWidth:1.2}});graphic.push(T(v.toFixed(1),2149,y,30));});

/* ---------- panels D, E ---------- */
function scatterPanel(o,k){
  const H=384.4,W=362.6;
  const main=grid.length;
  grid.push({left:o.ax,top:o.top,width:W,height:H});
  xAxis.push({gridIndex:main,type:'value',min:o.xlim[0],max:o.xlim[1],name:o.gene,nameLocation:'middle',nameGap:59,
    nameTextStyle:{fontSize:33,fontWeight:'bold',fontFamily:FF,color:'#000',padding:[0,0,0,24]},
    axisLine:{lineStyle:{color:'#000',width:3},onZero:false},splitLine:{show:false},
    axisTick:{length:9,customValues:o.xticks,lineStyle:{color:'#000',width:3}},
    axisLabel:{fontSize:28,fontFamily:FF,color:'#000',margin:17,padding:[0,0,0,9],customValues:o.xticks,formatter:v=>v.toFixed(o.dec)}});
  yAxis.push({gridIndex:main,type:'value',min:YLIM[0],max:YLIM[1],name:'Macrophages',nameLocation:'middle',nameGap:o.top===DT?76:80,
    nameTextStyle:{fontSize:33,fontFamily:FF,color:'#000',padding:[0,0,0,34]},
    axisLine:{lineStyle:{color:'#000',width:3},onZero:false},splitLine:{show:false},
    axisTick:{length:9,customValues:yTicks,lineStyle:{color:'#000',width:3}},
    axisLabel:{fontSize:28,fontFamily:FF,color:'#000',margin:14,customValues:yTicks,formatter:v=>v.toFixed(2)}});
  series.push({type:'custom',coordinateSystem:'cartesian2d',xAxisIndex:main,yAxisIndex:main,silent:true,z:1,data:o.band,renderItem(p,api){
    if(p.dataIndex)return null;
    const up=spline(o.band.map(b=>api.coord([b[0],b[2]]))),lo=spline(o.band.map(b=>api.coord([b[0],b[1]]))).reverse();
    return {type:'polygon',shape:{points:up.concat(lo)},style:{fill:'#F0ECEE'}};
  }});
  series.push({type:'scatter',xAxisIndex:main,yAxisIndex:main,silent:true,z:2,symbolSize:15,data:o.pts,itemStyle:{color:PURPLE,opacity:.55}});
  series.push({type:'line',xAxisIndex:main,yAxisIndex:main,silent:true,z:3,symbol:'none',data:o.fit,lineStyle:{color:'#8B79B5',width:3.5}});
  const stat=panelStats[k],ital={i:{fontStyle:'italic',fontSize:29,fontFamily:FF,fill:'#000'},n:{fontSize:29,fontFamily:FF,fill:'#000'}};
  series.push({type:'custom',coordinateSystem:'cartesian2d',xAxisIndex:main,yAxisIndex:main,silent:true,z:4,data:[[0,0]],renderItem(p){
    const c=p.coordSys,x=c.x+c.width+3,b=c.y+c.height;
    return {type:'group',children:[T('Spearman',x,b-81,29,{align:'right'}),
      T('{i|R}{n|=\u2009'+stat[0]+'}',x,b-54,29,{align:'right',rich:ital}),
      T('{i|P}{n|'+stat[1].charAt(0)+'\u2009'+stat[1].slice(1)+'}',x,b-25,29,{align:'right',rich:ital})]};
  }});
  // marginal densities
  const t=grid.length;
  grid.push({left:o.ax,top:o.top-80,width:W,height:68.5});
  xAxis.push({gridIndex:t,type:'value',min:o.xlim[0],max:o.xlim[1],show:false});
  yAxis.push({gridIndex:t,type:'value',min:0,max:1,show:false});
  series.push({type:'custom',coordinateSystem:'cartesian2d',xAxisIndex:t,yAxisIndex:t,silent:true,z:1,data:o.dens,renderItem(p,api){
    if(p.dataIndex)return null;
    const c=spline(o.dens.map(d=>api.coord(d)));
    return {type:'polygon',shape:{points:[api.coord([o.dens[0][0],0])].concat(c,[api.coord([o.dens[o.dens.length-1][0],0])])},style:{fill:DENS}};
  }});
  const r=grid.length;
  grid.push({left:o.ax+375.5,top:o.top,width:63,height:H});
  xAxis.push({gridIndex:r,type:'value',min:0,max:1,show:false});
  yAxis.push({gridIndex:r,type:'value',min:YLIM[0],max:YLIM[1],show:false});
  series.push({type:'custom',coordinateSystem:'cartesian2d',xAxisIndex:r,yAxisIndex:r,silent:true,z:1,data:macrophageDensity,renderItem(p,api){
    if(p.dataIndex)return null;
    const c=spline(macrophageDensity.map(d=>api.coord(d))),n=macrophageDensity.length;
    return {type:'polygon',shape:{points:[api.coord([0,macrophageDensity[0][1]])].concat(c,[api.coord([0,macrophageDensity[n-1][1]])])},style:{fill:DENS}};
  }});
}
const DT=1925,ET=2562.2;
[
 {gene:'CLDN10',ax:118.6,top:DT,xlim:[6.759,9.752],xticks:[7,8,9],dec:0,pts:cldn10Points,fit:cldn10Fit,band:cldn10Band,dens:cldn10Density},
 {gene:'UNC93B1',ax:675.7,top:DT,xlim:[7.316,8.818],xticks:[7.6,8,8.4,8.8],dec:1,pts:unc93b1Points,fit:unc93b1Fit,band:unc93b1Band,dens:unc93b1Density},
 {gene:'TDP2',ax:1233.6,top:DT,xlim:[9.551,11.114],xticks:[10,10.5,11],dec:1,pts:tdp2Points,fit:tdp2Fit,band:tdp2Band,dens:tdp2Density},
 {gene:'ATP1A1',ax:1791.4,top:DT,xlim:[11.383,13.073],xticks:[11.5,12,12.5,13],dec:1,pts:atp1a1Points,fit:atp1a1Fit,band:atp1a1Band,dens:atp1a1Density},
 {gene:'NUP214',ax:283.6,top:ET,xlim:[6.944,9.404],xticks:[7,7.5,8,8.5,9],dec:1,pts:nup214Points,fit:nup214Fit,band:nup214Band,dens:nup214Density},
 {gene:'CACNA1D',ax:970,top:ET,xlim:[6.567,9.391],xticks:[7,7.5,8,8.5,9],dec:1,pts:cacna1dPoints,fit:cacna1dFit,band:cacna1dBand,dens:cacna1dDensity},
 {gene:'CALM1',ax:1657.9,top:ET,xlim:[10.151,11.027],xticks:[10.2,10.4,10.6,10.8,11],dec:1,pts:calm1Points,fit:calm1Fit,band:calm1Band,dens:calm1Density}
].forEach(scatterPanel);

const chart=echarts.init(document.getElementById('c'),null,{width:2240,height:3036});
chart.setOption({animation:false,backgroundColor:'#fff',textStyle:{fontFamily:FF},polar:polarOpt,angleAxis,radiusAxis,grid,xAxis,yAxis,series,graphic:{elements:graphic}});
</script></body></html>
